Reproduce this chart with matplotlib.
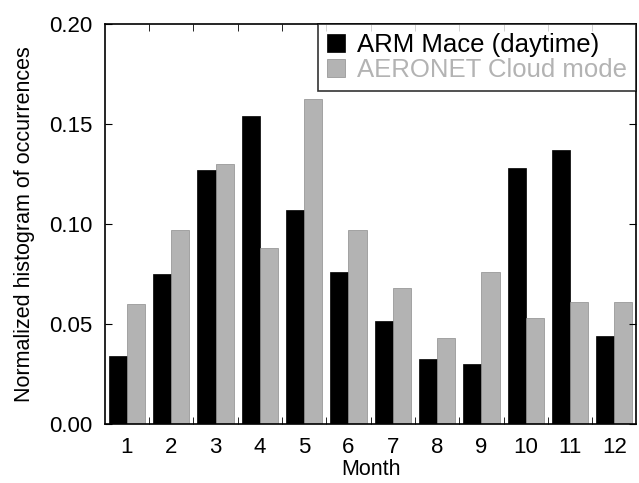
import numpy as np
import matplotlib.pyplot as plt
from matplotlib.ticker import FixedLocator

plt.rcParams['font.family'] = ['Liberation Sans', 'DejaVu Sans']

# Monthly histogram values
months = [1, 2, 3, 4, 5, 6, 7, 8, 9, 10, 11, 12]
arm_mace = [0.034, 0.075, 0.127, 0.154, 0.107, 0.076, 0.0515, 0.0325, 0.030, 0.128, 0.137, 0.044]
aeronet_cloud = [0.060, 0.097, 0.130, 0.088, 0.1625, 0.097, 0.068, 0.043, 0.076, 0.053, 0.061, 0.061]

fig = plt.figure(figsize=(6.39, 4.83), dpi=100)
ax = fig.add_axes([0.164, 0.122, 0.832, 0.828])

x = np.array(months)
w = 0.41
ax.bar(x - w / 2, arm_mace, width=w, color='black', edgecolor='black', linewidth=0.5,
       label='ARM Mace (daytime)')
ax.bar(x + w / 2, aeronet_cloud, width=w, color='#b3b3b3', edgecolor='#8c8c8c', linewidth=0.5,
       label='AERONET Cloud mode')

ax.set_xlim(0.5, 12.5)
ax.set_ylim(0, 0.20)
ax.set_xticks(months)
ax.xaxis.set_minor_locator(FixedLocator(np.arange(1.5, 12.5, 1)))
ax.set_yticks([0.0, 0.05, 0.10, 0.15, 0.20])
ax.set_yticklabels(['0.00', '0.05', '0.10', '0.15', '0.20'])

ax.tick_params(axis='x', which='major', length=0, labelsize=16, pad=9)
ax.tick_params(axis='x', which='minor', direction='in', length=5, top=True, bottom=True)
ax.tick_params(axis='y', which='major', direction='in', length=5, left=True, right=True,
               labelsize=16, pad=9)
for s in ax.spines.values():
    s.set_linewidth(1.2)

ax.set_xlabel('Month', fontsize=15.5, labelpad=1)
ax.set_ylabel('Normalized histogram of occurrences', fontsize=15.5, labelpad=10)

leg = ax.legend(loc='upper right', fontsize=18.5, frameon=True, fancybox=False,
                edgecolor='black', borderaxespad=0, handlelength=0.7, handleheight=0.7,
                handletextpad=0.5, labelspacing=0.05, borderpad=0.35)
leg.get_frame().set_linewidth(1.2)
leg.get_texts()[1].set_color('#b3b3b3')

fig.savefig('out.png', dpi=100)
